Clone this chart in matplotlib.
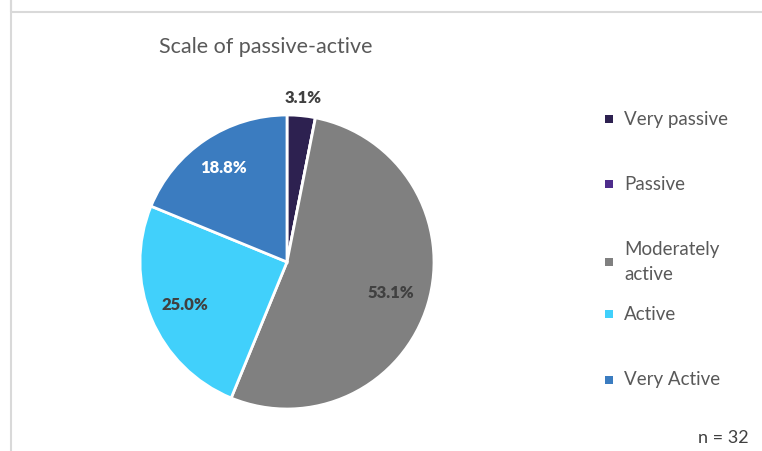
import numpy as np
import matplotlib.pyplot as plt
from matplotlib.patches import Rectangle

plt.rcParams['font.family'] = ['Lato', 'DejaVu Sans']

categories = ["Very passive", "Passive", "Moderately\nactive", "Active", "Very Active"]
shares = [3.1, 0.0, 53.1, 25.0, 18.8]
colors = ["#2d2150", "#4e2d8c", "#808080", "#41d0fb", "#3b7cc0"]
label_colors = ["#404040", "#404040", "#404040", "#404040", "white"]
label_dist = [1.12, 0.75, 0.74, 0.75, 0.77]

fig = plt.figure(figsize=(7.62, 4.51), dpi=100)

# grey frame (only top and left visible in the crop)
fig.patches.append(Rectangle((11 / 762, -0.1), 2, 1.2, transform=fig.transFigure,
                             fill=False, edgecolor="#d9d9d9", linewidth=1.5, zorder=0,
                             figure=fig))
fig.patches.append(Rectangle((11 / 762, (451 - 12) / 451), 2, 1.2, transform=fig.transFigure,
                             fill=False, edgecolor="#d9d9d9", linewidth=1.5, zorder=0,
                             figure=fig))

cx, cy, r = 287, 262, 147
ax = fig.add_axes([(cx - r) / 762, (451 - cy - r) / 451, 2 * r / 762, 2 * r / 451])
wedges, _ = ax.pie(shares, colors=colors, startangle=90, counterclock=False,
                   wedgeprops=dict(edgecolor="white", linewidth=2))
ax.set_xlim(-1, 1)
ax.set_ylim(-1, 1)
ax.set_aspect("auto")

for w, s, c, d in zip(wedges, shares, label_colors, label_dist):
    if s == 0:
        continue
    ang = np.deg2rad((w.theta1 + w.theta2) / 2)
    ax.text(d * np.cos(ang), d * np.sin(ang), f"{s:.1f}%", ha="center", va="center",
            fontsize=12, fontweight="heavy", color=c, clip_on=False)

fig.text(266 / 762, (451 - 47) / 451, "Scale of passive-active",
         ha="center", va="center", fontsize=15.5, color="#595959")

# legend
leg_y = [119, 184, 262, 314, 380]
for name, col, y in zip(categories, colors, leg_y):
    fig.patches.append(Rectangle((605 / 762, (451 - y - 4) / 451), 8 / 762, 8 / 451,
                                 transform=fig.transFigure, facecolor=col,
                                 edgecolor="none", figure=fig))
    fig.text(624 / 762, (451 - y) / 451, name, ha="left", va="center",
             multialignment="left", fontsize=13.5, color="#595959", linespacing=1.55)

fig.text(723 / 762, (451 - 438) / 451, "n = 32", ha="center", va="center",
         fontsize=13, color="#404040")

fig.savefig("out.png", dpi=100)
